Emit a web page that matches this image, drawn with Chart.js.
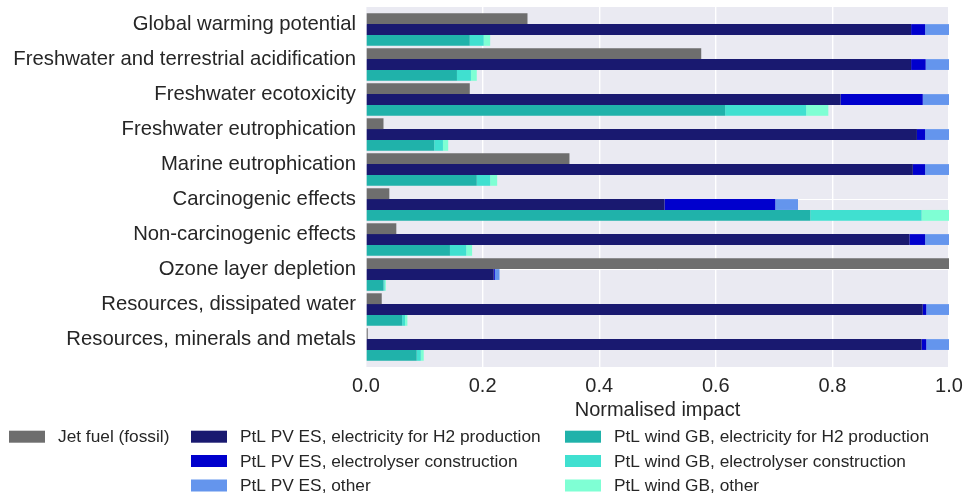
<!DOCTYPE html>
<html>
<head>
<meta charset="utf-8">
<script src="https://cdn.jsdelivr.net/npm/chart.js@4/dist/chart.umd.min.js"></script>
<style>
  html, body { margin: 0; padding: 0; background: #ffffff; }
  #wrap { width: 963px; height: 494px; position: relative; }
</style>
</head>
<body>
<div id="wrap"><canvas id="chart" width="963" height="494"></canvas></div>
<script>
// Impact categories, top to bottom
const categories = [
  'Global warming potential',
  'Freshwater and terrestrial acidification',
  'Freshwater ecotoxicity',
  'Freshwater eutrophication',
  'Marine eutrophication',
  'Carcinogenic effects',
  'Non-carcinogenic effects',
  'Ozone layer depletion',
  'Resources, dissipated water',
  'Resources, minerals and metals'
];

// Normalised impact contributions (each segment's own width)
const jetFuel       = [0.277, 0.575, 0.178, 0.030, 0.349, 0.040, 0.052, 1.000, 0.027, 0.003];
const pvElectricity = [0.935, 0.935, 0.814, 0.945, 0.938, 0.512, 0.932, 0.219, 0.955, 0.953];
const pvElectrolyser= [0.024, 0.025, 0.141, 0.014, 0.021, 0.190, 0.027, 0.002, 0.006, 0.008];
const pvOther       = [0.041, 0.040, 0.045, 0.041, 0.041, 0.039, 0.041, 0.008, 0.039, 0.039];
const windElectricity = [0.178, 0.156, 0.616, 0.117, 0.190, 0.762, 0.144, 0.030, 0.062, 0.087];
const windElectrolyser= [0.024, 0.024, 0.139, 0.015, 0.023, 0.191, 0.028, 0.002, 0.005, 0.007];
const windOther       = [0.011, 0.010, 0.038, 0.009, 0.012, 0.047, 0.010, 0.002, 0.004, 0.005];

const xTicks = [0, 0.2, 0.4, 0.6, 0.8, 1.0];

const FONT = "'Liberation Sans', Arial, Helvetica, sans-serif";
const TEXT = '#262626';

const series = [
  { label: 'Jet fuel (fossil)', values: jetFuel, stack: 'jet', color: '#6e6e6e' },
  { label: 'PtL PV ES, electricity for H2 production', values: pvElectricity, stack: 'pv', color: '#191970' },
  { label: 'PtL PV ES, electrolyser construction', values: pvElectrolyser, stack: 'pv', color: '#0000cd' },
  { label: 'PtL PV ES, other', values: pvOther, stack: 'pv', color: '#6495ed' },
  { label: 'PtL wind GB, electricity for H2 production', values: windElectricity, stack: 'wind', color: '#20b2aa' },
  { label: 'PtL wind GB, electrolyser construction', values: windElectrolyser, stack: 'wind', color: '#40e0d0' },
  { label: 'PtL wind GB, other', values: windOther, stack: 'wind', color: '#7fffd4' }
];

const datasets = series.map(s => ({
  label: s.label,
  data: s.values.map((v, i) => ({ x: v, y: i })),
  stack: s.stack,
  backgroundColor: s.color,
  borderWidth: 0,
  categoryPercentage: 0.9286,
  barPercentage: 1.0
}));

// Offset of the tick (boundary between first and second bar of a group)
const groupTick = 0.155;

// Plot background
const plotBackground = {
  id: 'plotBackground',
  beforeDraw(chart) {
    const { ctx, chartArea: a } = chart;
    ctx.save();
    ctx.fillStyle = '#eaeaf2';
    ctx.fillRect(a.left, a.top, a.right - a.left, a.bottom - a.top);
    ctx.restore();
  }
};

// Three-column legend under the axis
const columnLegend = {
  id: 'columnLegend',
  afterDraw(chart) {
    const { ctx } = chart;
    const columns = [
      { x: 9, items: [0] },
      { x: 191, items: [1, 2, 3] },
      { x: 565, items: [4, 5, 6] }
    ];
    const rowY = [436.7, 461.0, 485.5];
    ctx.save();
    ctx.font = '17.3px ' + FONT;
    ctx.textBaseline = 'middle';
    ctx.textAlign = 'left';
    columns.forEach(col => {
      col.items.forEach((di, r) => {
        const ds = chart.data.datasets[di];
        ctx.fillStyle = ds.backgroundColor;
        ctx.fillRect(col.x, rowY[r] - 6, 36, 12);
        ctx.fillStyle = TEXT;
        ctx.fillText(ds.label, col.x + 49, rowY[r] + 1);
      });
    });
    ctx.restore();
  }
};

new Chart(document.getElementById('chart'), {
  type: 'bar',
  data: { datasets },
  plugins: [plotBackground, columnLegend],
  options: {
    indexAxis: 'y',
    responsive: false,
    animation: false,
    layout: { padding: { top: 7, right: 14, bottom: 67, left: 0 } },
    plugins: {
      legend: { display: false },
      tooltip: { enabled: false }
    },
    scales: {
      x: {
        type: 'linear',
        stacked: true,
        min: 0,
        max: 1,
        afterFit(s) { s.height = 60; s.paddingLeft = 0; s.paddingRight = 0; },
        afterBuildTicks(s) { s.ticks = xTicks.map(v => ({ value: v })); },
        grid: { color: '#ffffff', lineWidth: 1.4, drawTicks: false },
        border: { display: false },
        ticks: {
          padding: 7,
          color: TEXT,
          font: { family: FONT, size: 20 },
          callback: v => Number(v).toFixed(1)
        },
        title: {
          display: true,
          text: 'Normalised impact',
          color: TEXT,
          font: { family: FONT, size: 20 },
          padding: { top: 0, bottom: 5 }
        }
      },
      y: {
        type: 'linear',
        reverse: true,
        offset: false,
        min: -0.644,
        max: 9.642,
        afterFit(s) { s.width = 366; s.paddingTop = 0; s.paddingBottom = 0; },
        afterBuildTicks(s) { s.ticks = categories.map((c, i) => ({ value: i - groupTick })); },
        grid: { color: '#ffffff', lineWidth: 1, drawTicks: false, offset: false },
        border: { display: false },
        ticks: {
          autoSkip: false,
          padding: 10,
          color: TEXT,
          font: { family: FONT, size: 20.3 },
          callback: (v, i) => categories[i]
        }
      }
    }
  }
});
</script>
</body>
</html>
